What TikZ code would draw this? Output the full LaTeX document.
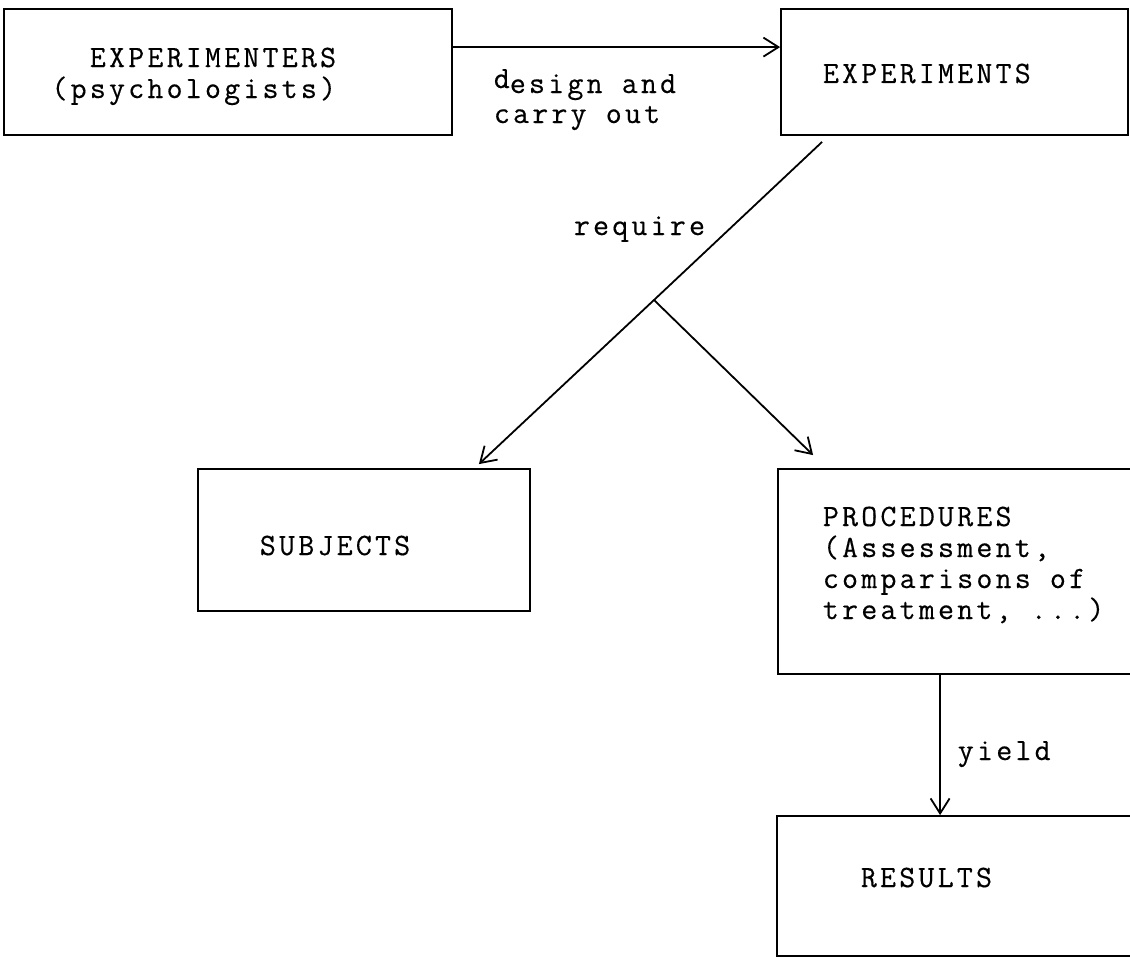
\documentclass[tikz,border=0pt]{standalone}
\usepackage{fontspec}
\setmonofont{Latin Modern Mono}[LetterSpace=10.4,FakeBold=0.4]
\usetikzlibrary{arrows.meta,fit,calc}

\begin{document}
\begin{tikzpicture}[
  x=0.5pt, y=-0.5pt,
  line width=0.9pt,
  box/.style={draw, rectangle, inner sep=0pt, line width=0.9pt},
  lbl/.style={inner sep=0pt, anchor=base west, align=left,
              font=\ttfamily\fontsize{15.5}{15.5}\selectfont},
  arr/.style={-{Straight Barb[length=7.5pt,width=9.5pt]}},
]
% page
\useasboundingbox (0,0) rectangle (1130,958);
\fill[white] (0,0) rectangle (1130,958);
\begin{scope}
\clip (0,0) rectangle (1130,958);

% boxes
\node[box, fit={(4,9) (452,135)}]    (ers)  {};
\node[box, fit={(781,9) (1128,135)}] (ments) {};
\node[box, fit={(198,469) (530,611)}] (subj) {};
\node[box, fit={(778,469) (1170,674)}] (proc) {};
\node[box, fit={(777,816) (1170,956)}] (res) {};

% box texts (multi-line nodes sit on the baseline of their last line)
\node[lbl, anchor=base east, align=right] (ers-t) at (337,98)
  {EXPERIMENTERS\\(psychologists)};
\node[lbl] (ments-t) at (822,83) {EXPERIMENTS};
\node[lbl] (subj-t) at (259,555) {SUBJECTS};
\node[lbl] (proc-t) at (822,619)
  {PROCEDURES\\(Assessment,\\comparisons of\\treatment, ...)};
\node[lbl] (res-t) at (860,887) {RESULTS};

% connectors
\draw[arr] ($(ers.north east)+(0,39)$) -- ($(ments.north west)+(0,39)$);
\node[lbl, font=\ttfamily\fontsize{15.5}{15}\selectfont] (design) at (493,123)
  {\raisebox{2.5pt}{d}esign and\\carry out};

\coordinate (ments-out) at ($(ments.south west)+(42,6)$);
\coordinate (split) at (654,300);
\draw[arr] (ments-out) -- (split) -- ($(subj.north east)+(-52,-4)$);
\draw[arr] (split) -- ($(proc.north west)+(36,-13)$);
\node[lbl] (require) at (573,235) {require};

\draw[arr] ($(proc.south west)+(163,0)$) -- ($(res.north west)+(164,0)$);
\node[lbl] (yield) at (957,760) {yield};
\end{scope}
\end{tikzpicture}
\end{document}
